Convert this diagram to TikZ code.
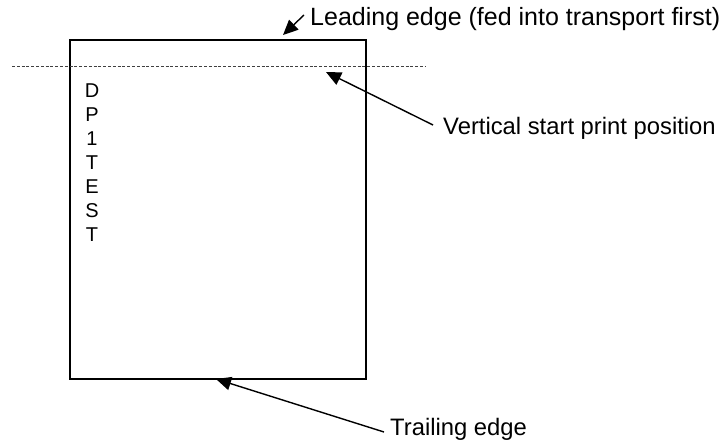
\documentclass[tikz,border=0pt]{standalone}
\usepackage{fontspec}
\setmainfont{Liberation Sans}
\usetikzlibrary{arrows.meta}
\begin{document}
\begin{tikzpicture}[x=1pt,y=-1pt,
  lbl/.style={anchor=west,inner sep=0pt,font=\fontsize{23.8}{27}\selectfont},
  pointer/.style={line width=1.4pt,-{Triangle[length=15pt,width=13.5pt]}},
  sheet/.style={draw,line width=2pt},
  startline/.style={draw=black!75,line width=0.9pt,dash pattern=on 3pt off 1.8pt}]
\useasboundingbox (0,0) rectangle (722,441);
\node[sheet,minimum width=296pt,minimum height=339pt,inner sep=0pt,anchor=north west] (paper) at (69,39) {};
\coordinate (dl) at (12,66);
\coordinate (dr) at (425,66);
\draw[startline] (dl) -- (dr);
\node[anchor=north,inner sep=0pt,align=center,font=\fontsize{20}{24}\selectfont] (col) at (92,84) {D\\P\\1\\T\\E\\S\\T};
\node[lbl,font=\fontsize{25}{28}\selectfont] (lead) at (310,19) {Leading edge (fed into transport first)};
\node[lbl] (vert) at (443,128) {Vertical start print position};
\node[lbl] (trail) at (390,429) {Trailing edge};
\coordinate (leadtip) at (283,35);
\coordinate (leadtail) at (304,15);
\coordinate (verttip) at (326,72);
\coordinate (verttail) at (433,125);
\coordinate (trailtip) at (216,379);
\coordinate (trailtail) at (384,432);
\draw[pointer] (leadtail) -- (leadtip);
\draw[pointer] (verttail) -- (verttip);
\draw[pointer] (trailtail) -- (trailtip);
\end{tikzpicture}
\end{document}
